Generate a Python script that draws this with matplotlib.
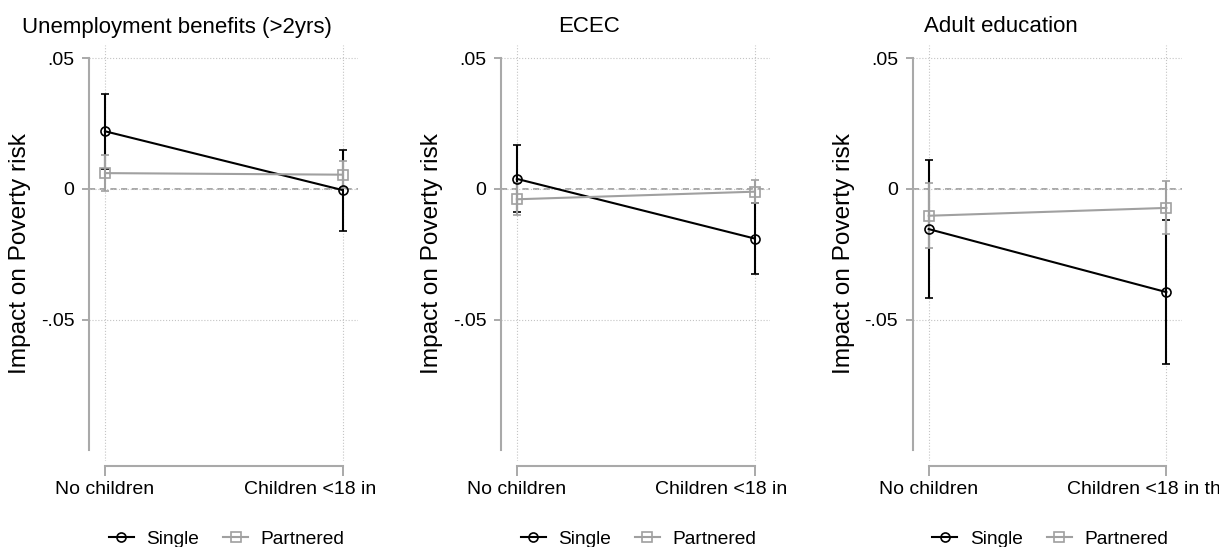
import matplotlib as mpl
mpl.use('Agg')
import matplotlib.pyplot as plt
from matplotlib.lines import Line2D
from matplotlib.transforms import Bbox, TransformedBbox
import numpy as np

plt.rcParams['font.family'] = ['Liberation Sans', 'DejaVu Sans']

#======================================================================

titles = ['Unemployment benefits (>2yrs)', 'ECEC', 'Adult education']
categories = ['No children', 'Children <18 in the HH']
groups = ['Single', 'Partnered']
ylabel = 'Impact on Poverty risk'

# estimates and 95% bounds per panel: [no children, children]
single_est = [[0.0220, -0.0005], [0.0038, -0.0190], [-0.0154, -0.0395]]
single_lo = [[0.0076, -0.0161], [-0.0090, -0.0325], [-0.0418, -0.0668]]
single_hi = [[0.0364, 0.0150], [0.0166, -0.0056], [0.0109, -0.0121]]

partnered_est = [[0.0060, 0.0054], [-0.0040, -0.0011], [-0.0103, -0.0073]]
partnered_lo = [[-0.0010, 0.0004], [-0.0100, -0.0055], [-0.0228, -0.0174]]
partnered_hi = [[0.0131, 0.0105], [0.0021, 0.0033], [0.0023, 0.0029]]

yticks = [-0.05, 0, 0.05]
yticklabels = ['-.05', '0', '.05']

#======================================================================

W, H = 1224, 547
AXIS_C = '#a9a9a9'
GRID_C = '#c4c4c4'
SINGLE_C = 'black'
PARTNERED_C = '#a0a0a0'

# right edge (pixels from the left spine) where the x labels get cut
LABEL_CUT = [290, 290, 306]

fig = plt.figure(figsize=(W/100, H/100), dpi=100)


def draw_group(ax, xs, est, lo, hi, color, marker):
    est = np.asarray(est)
    yerr = [est - np.asarray(lo), np.asarray(hi) - est]
    ax.errorbar(xs, est, yerr=yerr, color=color, marker=marker, ms=6.5,
                mfc='none', mec=color, mew=1.2, lw=1.5, elinewidth=1.5,
                capsize=3, capthick=1.5, zorder=4)


for i, title in enumerate(titles):
    x0 = 89 + 411.85*i   # left spine in pixels
    ax = fig.add_axes([x0/W, 86/H, 269.3/W, 415.6/H])
    ax.set_xlim(-0.0673, 1.0656)
    ax.set_ylim(-0.10405, 0.05482)

    for side in ('top', 'right'):
        ax.spines[side].set_visible(False)
    for side in ('left', 'bottom'):
        ax.spines[side].set_color(AXIS_C)
        ax.spines[side].set_linewidth(1.5)
    ax.spines['left'].set_bounds(-0.1, 0.05)
    ax.spines['bottom'].set_bounds(0, 1)
    ax.spines['bottom'].set_position(('outward', 3.4))

    ax.set_yticks(yticks, yticklabels)
    ax.set_xticks([0, 1], categories)
    ax.tick_params(axis='y', length=5, width=1.4, color=AXIS_C, pad=5.5,
                   labelsize=14)
    ax.tick_params(axis='x', length=7.2, width=1.4, color=AXIS_C, pad=3.5,
                   labelsize=14)

    ax.grid(True, ls=':', lw=0.8, color=GRID_C, zorder=0)
    ax.axhline(0, ls=(0, (4, 3)), lw=1.1, color='#8f8f8f', zorder=1)

    xs = np.arange(len(categories))
    draw_group(ax, xs, single_est[i], single_lo[i], single_hi[i],
               SINGLE_C, 'o')
    draw_group(ax, xs, partnered_est[i], partnered_lo[i], partnered_hi[i],
               PARTNERED_C, 's')

    # long category label is cut off at the panel edge
    clip = TransformedBbox(
        Bbox([[(x0 - 150)/W, 0], [(x0 + LABEL_CUT[i])/W, 1]]),
        fig.transFigure)
    for lab in ax.get_xticklabels():
        lab.set_clip_box(clip)
        lab.set_clip_on(True)

    fig.text((x0 + 88)/W, (H - 32.5)/H, title, ha='center', va='baseline',
             fontsize=16)
    fig.text((x0 - 69)/W, (H - 254)/H, ylabel, rotation=90, ha='center',
             va='center', fontsize=17.6)

    handles = [
        Line2D([], [], color=SINGLE_C, marker='o', ms=6.5, mfc='none',
               mew=1.2, lw=1.5),
        Line2D([], [], color=PARTNERED_C, marker='s', ms=6.5, mfc='none',
               mew=1.2, lw=1.5),
    ]
    ax.legend(handles, groups, loc='center',
              bbox_to_anchor=((x0 + 137.7)/W, 8/H),
              bbox_transform=fig.transFigure, ncol=2, frameon=False,
              fontsize=13.8, handlelength=1.3, handletextpad=0.66,
              columnspacing=1.25, borderpad=0, borderaxespad=0)

fig.savefig('out.png', dpi=100)
plt.close()
